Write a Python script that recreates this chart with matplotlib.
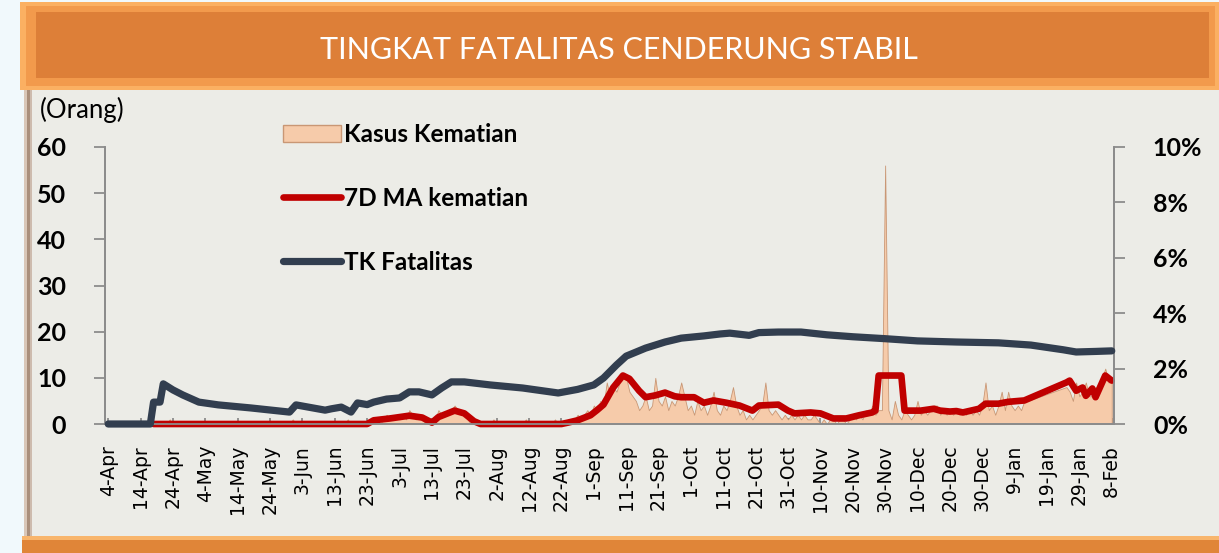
import matplotlib.pyplot as plt
from matplotlib.patches import Rectangle, Patch
from matplotlib.lines import Line2D
from matplotlib.ticker import FuncFormatter

# day 0 = 4-Apr, one tick every 10 days
tick_labels = ['4-Apr', '14-Apr', '24-Apr', '4-May', '14-May', '24-May', '3-Jun', '13-Jun',
               '23-Jun', '3-Jul', '13-Jul', '23-Jul', '2-Aug', '12-Aug', '22-Aug', '1-Sep',
               '11-Sep', '21-Sep', '1-Oct', '11-Oct', '21-Oct', '31-Oct', '10-Nov', '20-Nov',
               '30-Nov', '10-Dec', '20-Dec', '30-Dec', '9-Jan', '19-Jan', '29-Jan', '8-Feb']

# Kasus Kematian (daily, orang) - no data between day 285 and 295
death_day = list(range(0, 285)) + list(range(296, 311))
deaths = [0, 0, 0, 0, 0, 0, 0, 0, 0, 0,
          0, 0, 0, 0, 0, 0, 0, 0, 0, 1,
          0, 0, 0, 0, 0, 0, 0, 0, 0, 0,
          0, 0, 0, 0, 0, 0, 0, 0, 0, 0,
          0, 0, 0, 0, 0, 0, 0, 0, 0, 0,
          0, 0, 0, 0, 0, 0, 0, 1, 0, 0,
          0, 0, 0, 0, 0, 0, 0, 0, 0, 0,
          0, 0, 0, 0, 1, 0, 0, 0, 0, 0,
          0, 1, 0, 1, 0, 1, 2, 1, 1, 2,
          1, 2, 1, 3, 2, 1, 2, 1, 0, 0,
          0, 1, 3, 2, 2, 3, 3, 4, 3, 2,
          2, 1, 0, 0, 0, 0, 0, 0, 0, 1,
          0, 0, 0, 0, 0, 0, 0, 0, 0, 1,
          0, 0, 0, 0, 0, 0, 0, 0, 1, 0,
          0, 0, 1, 0, 1, 2, 1, 2, 3, 2,
          4, 3, 5, 4, 9, 6, 8, 7, 9, 11,
          10, 7, 6, 5, 3, 4, 6, 3, 4, 10,
          5, 4, 6, 3, 5, 4, 6, 9, 6, 3,
          4, 2, 5, 3, 4, 2, 4, 7, 3, 2,
          4, 3, 5, 8, 4, 2, 3, 1, 2, 1,
          2, 3, 4, 9, 3, 2, 3, 2, 1, 2,
          1, 2, 1, 2, 1, 2, 1, 1, 2, 1,
          0, 1, 0, 1, 1, 0, 1, 1, 0, 1,
          2, 1, 2, 1, 3, 2, 4, 2, 3, 3,
          56, 3, 1, 5, 2, 1, 3, 2, 1, 2,
          5, 2, 3, 2, 3, 4, 4, 2, 3, 2,
          3, 2, 3, 2, 3, 2, 3, 2, 3, 2,
          4, 9, 3, 4, 2, 4, 7, 3, 7, 4,
          3, 4, 3, 5, 5,
          8, 7, 5, 9, 6, 7, 9, 6, 6, 8, 7, 10, 12, 9, 10]

# 7D MA kematian (orang)
ma_day = [14, 80, 82, 87, 93, 97, 100, 102, 107, 110, 113, 115, 140, 142, 145, 149, 151,
          153, 156, 159, 161, 164, 166, 169, 172, 175, 177, 181, 184, 187, 191, 195, 199,
          201, 207, 210, 212, 217, 220, 224, 228, 232, 236, 237, 238, 245, 246, 251, 255,
          257, 260, 262, 264, 269, 271, 275, 278, 283, 296, 297, 299, 301, 302, 304, 305,
          308, 310]
ma_val = [0, 0, 0.8, 1.2, 1.8, 1.4, 0.3, 1.5, 2.9, 2.3, 0.6, 0, 0, 0.3, 0.8, 1.9, 3.0,
          4.2, 7.9, 10.5, 9.8, 7.2, 5.8, 6.2, 6.8, 6.0, 5.8, 5.8, 4.6, 5.1, 4.6, 4.0, 2.9,
          4.0, 4.2, 2.9, 2.3, 2.5, 2.3, 1.2, 1.2, 1.9, 2.5, 2.9, 10.5, 10.5, 2.9, 2.9, 3.3,
          2.9, 2.7, 2.8, 2.5, 3.3, 4.4, 4.4, 4.8, 5.1, 9.0, 9.4, 7.2, 7.9, 6.1, 7.7, 5.8,
          10.5, 9.4]

# TK Fatalitas (%)
fatal_day = [0, 13, 14, 16, 17, 20, 23, 28, 34, 44, 56, 58, 67, 69, 72, 75, 77, 80, 82, 86,
             90, 93, 96, 100, 103, 106, 110, 118, 128, 139, 145, 150, 153, 157, 160, 166,
             172, 177, 184, 189, 192, 198, 201, 207, 214, 222, 230, 240, 250, 262, 275, 285,
             295, 299, 305, 310]
fatal_pct = [0, 0, 0.79, 0.79, 1.45, 1.23, 1.05, 0.79, 0.69, 0.58, 0.43, 0.69, 0.5, 0.55,
             0.61, 0.43, 0.76, 0.7, 0.79, 0.9, 0.94, 1.16, 1.16, 1.05, 1.3, 1.52, 1.52, 1.41,
             1.3, 1.12, 1.25, 1.41, 1.66, 2.13, 2.45, 2.74, 2.96, 3.1, 3.18, 3.25, 3.28, 3.2,
             3.3, 3.32, 3.32, 3.22, 3.15, 3.08, 3.0, 2.96, 2.93, 2.85, 2.68, 2.6, 2.62, 2.64]

W, H = 1219, 553
fig = plt.figure(figsize=(W / 100, H / 100), dpi=100)
fig.patch.set_facecolor('#F1F9FC')


def box(x0, y0, x1, y1, color):
    # pixel box (top-down) -> figure rectangle
    fig.patches.append(Rectangle((x0 / W, 1 - y1 / H), (x1 - x0) / W, (y1 - y0) / H,
                                 transform=fig.transFigure, facecolor=color,
                                 edgecolor='none', zorder=-5))


# panel + frame
box(24, 86, W, 540, '#ECECE7')
box(24, 86, 27, 540, '#D9C7B8')
box(27, 86, 30, 540, '#A98F7C')
box(30, 86, 32, 540, '#CDBBAE')
# title banner
box(20, 2, W, 90, '#FBB062')
box(26, 6, W - 4, 86, '#F29A4C')
box(36, 12, W - 10, 78, '#DD7F38')
# bottom bar
box(22, 536, W, 553, '#E08538')
box(22, 536, W, 540, '#F8B56C')

fig.text(619 / W, 1 - 50 / H, 'TINGKAT FATALITAS CENDERUNG STABIL', color='white',
         fontsize=22, family='Lato', ha='center', va='center')
fig.text(40 / W, 1 - 110 / H, '(Orang)', fontsize=18.5, family='Lato', ha='left', va='center')

ax = fig.add_axes([105 / W, 1 - 424 / H, (1114 - 105) / W, (424 - 147) / H])
ax.set_facecolor('none')
ax2 = ax.twinx()

ax.fill_between(death_day, deaths, 0, facecolor='#F6CBAA', edgecolor='#C99775',
                linewidth=0.6, zorder=2)
ax.plot(ma_day, ma_val, color='#C00000', linewidth=4.8, solid_joinstyle='round',
        solid_capstyle='round', zorder=3, clip_on=False)
ax2.plot(fatal_day, fatal_pct, color='#323E4F', linewidth=5.2, solid_joinstyle='round',
         solid_capstyle='round', zorder=3, clip_on=False)

ax.set_xlim(-1, 310.7)
ax.set_ylim(0, 60)
ax2.set_ylim(0, 10)
ax.set_yticks(range(0, 61, 10))
ax2.set_yticks(range(0, 11, 2))
ax2.yaxis.set_major_formatter(FuncFormatter(lambda v, p: '%d%%' % v))
ax.set_xticks(range(0, 311, 10))
ax.set_xticklabels(tick_labels, rotation=90, fontsize=13.5, family='DejaVu Sans')

for a in (ax, ax2):
    for s in a.spines.values():
        s.set_color('#8C8C8C')
        s.set_linewidth(1.3)
    a.spines['top'].set_visible(False)
ax.tick_params(axis='y', direction='out', length=8, width=1.3, color='#8C8C8C', pad=20)
ax2.tick_params(axis='y', direction='out', length=8, width=1.3, color='#8C8C8C', pad=20)
ax.tick_params(axis='x', direction='in', length=4, width=1.3, color='#8C8C8C', pad=15)
for lab in ax.get_yticklabels() + ax2.get_yticklabels():
    lab.set_fontsize(18)
    lab.set_fontweight('bold')
    lab.set_family('Lato')

handles = [Patch(facecolor='#F6CBAA', edgecolor='#C99775', linewidth=1.0),
           Line2D([], [], color='#C00000', linewidth=4.8, solid_capstyle='round'),
           Line2D([], [], color='#323E4F', linewidth=5.2, solid_capstyle='round')]
fig.legend(handles, ['Kasus Kematian', '7D MA kematian', 'TK Fatalitas'],
           loc='upper left', bbox_to_anchor=(283 / W, 1 - 123 / H), frameon=False,
           prop={'family': 'Lato', 'weight': 'bold', 'size': 17.5},
           handlelength=2.4, handleheight=0.7, handletextpad=0.12,
           labelspacing=1.68, borderpad=0, borderaxespad=0)

fig.savefig('out.png', dpi=100, facecolor=fig.get_facecolor())
